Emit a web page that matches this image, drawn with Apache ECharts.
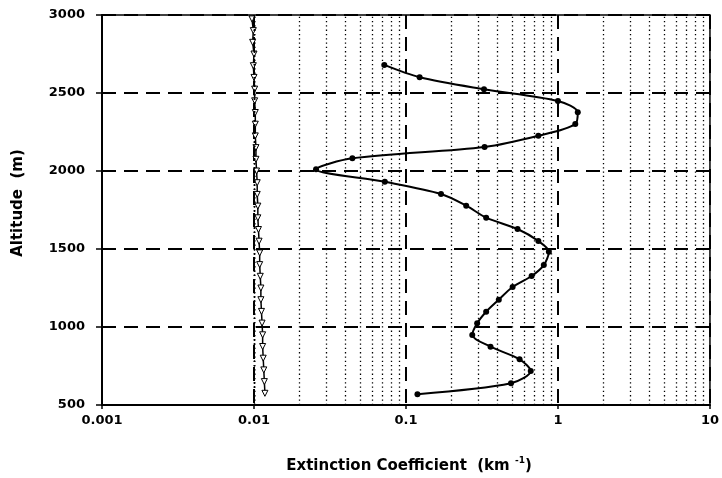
<!DOCTYPE html>
<html><head><meta charset="utf-8">
<script src="https://cdn.jsdelivr.net/npm/echarts@6/dist/echarts.min.js"></script>
<style>html,body{margin:0;padding:0;background:#fff}#c{width:722px;height:478px}</style>
</head><body><div id="c"></div>
<script>
// Measured extinction profile (filled circles)
const profileAltitude = [2680, 2601, 2524, 2449, 2376, 2301, 2226, 2154, 2081, 2011, 1931, 1853, 1778, 1701, 1628, 1551, 1483, 1397, 1327, 1256, 1175, 1098, 1024, 949, 874, 793, 718, 639, 569];
const profileExtinction = [0.072, 0.123, 0.326, 1.00, 1.35, 1.30, 0.743, 0.329, 0.0444, 0.0256, 0.0726, 0.170, 0.249, 0.337, 0.542, 0.743, 0.871, 0.807, 0.671, 0.503, 0.408, 0.337, 0.294, 0.273, 0.360, 0.559, 0.662, 0.491, 0.119];
// Reference (open triangles)
const refAltitude = [2975, 2900, 2825, 2750, 2675, 2600, 2525, 2450, 2375, 2300, 2225, 2150, 2075, 2000, 1925, 1850, 1775, 1700, 1625, 1550, 1475, 1400, 1325, 1250, 1175, 1100, 1025, 950, 875, 800, 725, 650, 575];
const refExtinction = [0.0097, 0.0099, 0.0098, 0.0100, 0.0099, 0.0100, 0.0101, 0.0101, 0.0102, 0.0102, 0.0102, 0.0103, 0.0103, 0.0104, 0.0105, 0.0105, 0.0106, 0.0106, 0.0107, 0.0108, 0.0109, 0.0109, 0.0110, 0.0111, 0.0111, 0.0112, 0.0113, 0.0114, 0.0114, 0.0115, 0.0116, 0.0117, 0.0118];
// Axis ticks
const xTickLabels = ['0.001', '0.01', '0.1', '1', '10'];
const yTickValues = [500, 1000, 1500, 2000, 2500, 3000];
const xMinorTicks = [0.002,0.003,0.004,0.005,0.006,0.007,0.008,0.009,
                     0.02,0.03,0.04,0.05,0.06,0.07,0.08,0.09,
                     0.2,0.3,0.4,0.5,0.6,0.7,0.8,0.9,
                     2,3,4,5,6,7,8,9];

const FONT = 'DejaVu Sans';
const chart = echarts.init(document.getElementById('c'), null, {renderer: 'canvas'});
chart.setOption({
  animation: false,
  backgroundColor: '#fff',
  grid: {left: 102, right: 6, top: 15, bottom: 73, show: true, borderColor: '#000', borderWidth: 1.5, backgroundColor: 'transparent'},
  xAxis: {
    type: 'log', logBase: 10, min: 0.001, max: 10,
    axisLine: {lineStyle: {color: '#000', width: 2}},
    axisTick: {show: true, length: 4, lineStyle: {color: '#000', width: 1.5}},
    axisLabel: {color: '#000', fontFamily: FONT, fontWeight: 'bold', fontSize: 13, margin: 9,
      formatter: function (v) { return xTickLabels[Math.round(Math.log10(v)) + 3]; }},
    splitLine: {show: true, lineStyle: {color: '#000', width: 2, type: [14, 8]}}
  },
  yAxis: {
    type: 'value', min: yTickValues[0], max: yTickValues[yTickValues.length - 1], interval: 500,
    axisLine: {show: true, lineStyle: {color: '#000', width: 2}},
    axisTick: {show: true, length: 6, lineStyle: {color: '#000', width: 1.5}},
    axisLabel: {color: '#000', fontFamily: FONT, fontWeight: 'bold', fontSize: 13, margin: 17,
      formatter: function (v) { return String(Math.round(v)); }},
    splitLine: {show: true, lineStyle: {color: '#000', width: 2, type: [14, 8]}}
  },
  graphic: [
    {type: 'text', x: 18, y: 203, rotation: Math.PI / 2,
     style: {text: 'Altitude  (m)', font: 'bold 15px "DejaVu Sans"', fill: '#000', align: 'center', verticalAlign: 'middle'}},
    {type: 'text', x: 409, y: 466,
     style: {text: '{a|Extinction Coefficient  (km }{s|-1}{a|)}', align: 'center', verticalAlign: 'middle', fill: '#000',
       rich: {a: {fontFamily: FONT, fontWeight: 'bold', fontSize: 15, lineHeight: 20, fill: '#000'},
              s: {fontFamily: FONT, fontWeight: 'bold', fontSize: 9, lineHeight: 12, verticalAlign: 'top', fill: '#000'}}}}
  ],
  series: [
    {
      type: 'line', name: 'minor', data: [], z: 1, silent: true,
      markLine: {silent: true, symbol: ['none', 'none'], label: {show: false}, animation: false,
        lineStyle: {color: '#000', width: 1.3, type: [1.3, 3]},
        data: xMinorTicks.map(v => ({xAxis: v}))}
    },
    {
      type: 'line', name: 'reference', z: 3,
      data: refExtinction.map((v, i) => [v, refAltitude[i]]),
      lineStyle: {color: '#000', width: 1.5},
      symbol: 'triangle', symbolSize: 6, symbolRotate: 180, showAllSymbol: true,
      itemStyle: {color: '#fff', borderColor: '#000', borderWidth: 1}
    },
    {
      type: 'line', name: 'profile', z: 4, smooth: 0.3,
      data: profileExtinction.map((v, i) => [v, profileAltitude[i]]),
      lineStyle: {color: '#000', width: 2},
      symbol: 'circle', symbolSize: 6, showAllSymbol: true,
      itemStyle: {color: '#000', borderColor: '#000', borderWidth: 0}
    }
  ]
});
</script></body></html>
